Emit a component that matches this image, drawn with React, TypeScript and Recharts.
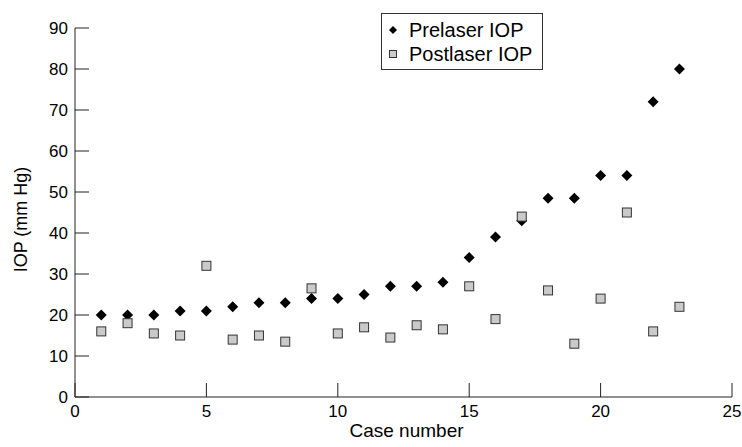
import React from 'react';
import { Label, Legend, Scatter, ScatterChart, XAxis, YAxis } from 'recharts';

const caseNumbers = [1, 2, 3, 4, 5, 6, 7, 8, 9, 10, 11, 12, 13, 14, 15, 16, 17, 18, 19, 20, 21, 22, 23];
const prelaserIop = [20, 20, 20, 21, 21, 22, 23, 23, 24, 24, 25, 27, 27, 28, 34, 39, 43, 48.5, 48.5, 54, 54, 72, 80];
const postlaserIop = [16, 18, 15.5, 15, 32, 14, 15, 13.5, 26.5, 15.5, 17, 14.5, 17.5, 16.5, 27, 19, 44, 26, 13, 24, 45, 16, 22];
const xTicks = [0, 5, 10, 15, 20, 25];
const yTicks = [0, 10, 20, 30, 40, 50, 60, 70, 80, 90];

const font = '"Liberation Sans", Arial, Helvetica, sans-serif';
const ink = '#222';

const pre = caseNumbers.map((c, i) => ({ x: c, y: prelaserIop[i] }));
const post = caseNumbers.map((c, i) => ({ x: c, y: postlaserIop[i] }));

const Diamond = (props: any) => {
  const { cx, cy } = props;
  const r = 5.5;
  return <polygon points={`${cx},${cy - r} ${cx + r},${cy} ${cx},${cy + r} ${cx - r},${cy}`} fill="#000" />;
};

const Square = (props: any) => {
  const { cx, cy } = props;
  const s = 9;
  return <rect x={cx - s / 2} y={cy - s / 2} width={s} height={s} fill="#cacaca" stroke="#333" strokeWidth={1} />;
};

// ticks point into the plot, so draw them ourselves
const XTick = (props: any) => {
  const { x, y, payload } = props;
  return (
    <g>
      <line x1={x} x2={x} y1={y} y2={y - 14} stroke={ink} />
      <text x={x} y={y + 20} textAnchor="middle" fontSize={17} fontFamily={font} fill="#000">
        {payload.value}
      </text>
    </g>
  );
};

const YTick = (props: any) => {
  const { x, y, payload } = props;
  return (
    <g>
      <line x1={x} x2={x + 14} y1={y} y2={y} stroke={ink} />
      <text x={x - 7} y={y} dy="0.36em" textAnchor="end" fontSize={17} fontFamily={font} fill="#000">
        {payload.value}
      </text>
    </g>
  );
};

const XLabel = (props: any) => {
  const { viewBox } = props;
  return (
    <text x={viewBox.x + viewBox.width / 2 + 3} y={viewBox.y + 40} textAnchor="middle" fontSize={19} fontFamily={font} fill="#000">
      Case number
    </text>
  );
};

const YLabel = (props: any) => {
  const { viewBox } = props;
  const x = viewBox.x + 27;
  const y = viewBox.y + viewBox.height / 2 + 7;
  return (
    <text x={x} y={y} transform={`rotate(-90, ${x}, ${y})`} textAnchor="middle" fontSize={18} fontFamily={font} fill="#000">
      IOP (mm Hg)
    </text>
  );
};

const LegendBox = () => (
  <svg width={162} height={57} style={{ display: 'block' }}>
    <rect x={0.5} y={0.5} width={161} height={56} fill="#fff" stroke="#333" />
    <polygon points="12,13 16,17 12,21 8,17" fill="#000" />
    <text x={28} y={24} fontSize={20} fontFamily={font} fill="#000">
      Prelaser IOP
    </text>
    <rect x={8.5} y={37.5} width={7} height={7} fill="#cacaca" stroke="#333" />
    <text x={28} y={48} fontSize={20} fontFamily={font} fill="#000">
      Postlaser IOP
    </text>
  </svg>
);

export default function App() {
  return (
    <div style={{ position: 'absolute', left: 0, top: 0, background: '#fff' }}>
      <ScatterChart width={742} height={447} margin={{ top: 28, right: 10, bottom: 0, left: 0 }}>
        <XAxis
          type="number"
          dataKey="x"
          domain={[0, 25]}
          ticks={xTicks}
          height={50}
          stroke={ink}
          tickLine={false}
          tickSize={0}
          tickMargin={0}
          tick={<XTick />}
          interval={0}
        >
          <Label content={<XLabel />} />
        </XAxis>
        <YAxis
          type="number"
          dataKey="y"
          domain={[0, 90]}
          ticks={yTicks}
          width={75}
          stroke={ink}
          tickLine={false}
          tickSize={0}
          tickMargin={0}
          tick={<YTick />}
          interval={0}
        >
          <Label content={<YLabel />} />
        </YAxis>
        <Legend
          layout="vertical"
          align="center"
          verticalAlign="middle"
          content={<LegendBox />}
          wrapperStyle={{ left: 381, top: 13, width: 162, height: 57 }}
        />
        <Scatter name="Prelaser IOP" data={pre} shape={<Diamond />} isAnimationActive={false} />
        <Scatter name="Postlaser IOP" data={post} shape={<Square />} isAnimationActive={false} />
      </ScatterChart>
    </div>
  );
}
